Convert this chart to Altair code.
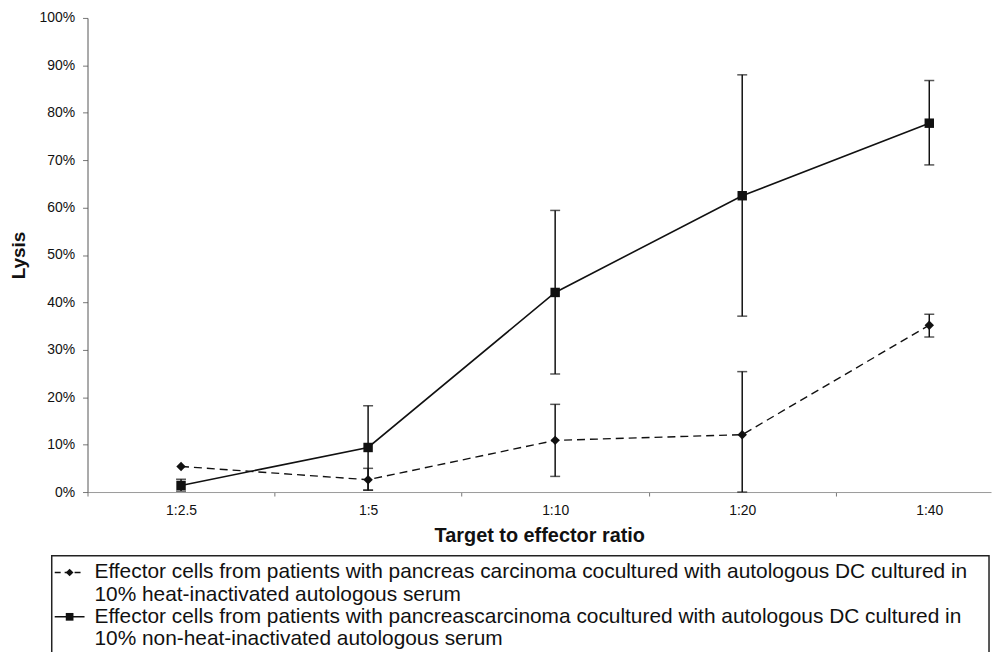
import altair as alt
import pandas as pd

ratios = ["1:2.5", "1:5", "1:10", "1:20", "1:40"]

heat_mean = [5.4, 2.6, 10.9, 12.1, 35.2]
heat_low = [5.4, 0.4, 3.3, 0.0, 32.7]
heat_high = [5.4, 5.0, 18.5, 25.4, 37.5]

nonheat_mean = [1.4, 9.4, 42.1, 62.5, 77.8]
nonheat_low = [0.2, 0.4, 24.9, 37.1, 69.0]
nonheat_high = [2.7, 18.2, 59.4, 88.0, 86.8]

series_names = ["heat", "nonheat"]
legend_lines = [
    ["Effector cells from patients with pancreas carcinoma cocultured with autologous DC cultured in",
     "10% heat-inactivated autologous serum"],
    ["Effector cells from patients with pancreascarcinoma cocultured with autologous DC cultured in",
     "10% non-heat-inactivated autologous serum"],
]

FONT = "Liberation Sans"
pos = list(range(len(ratios)))

heat = pd.DataFrame({"pos": pos, "ratio": ratios, "mean": heat_mean,
                     "low": heat_low, "high": heat_high, "series": "heat"})
nonheat = pd.DataFrame({"pos": pos, "ratio": ratios, "mean": nonheat_mean,
                        "low": nonheat_low, "high": nonheat_high, "series": "nonheat"})
both = pd.concat([heat, nonheat], ignore_index=True)
err = both[both["high"] > both["low"]]

label_js = "[" + ",".join("'" + r + "'" for r in ratios) + "]"
tick_vals = [-0.5, 0, 0.5, 1, 1.5, 2, 2.5, 3, 3.5, 4]

x_enc = alt.X(
    "pos:Q",
    scale=alt.Scale(domain=[-0.5, 4.33], nice=False, zero=False),
    axis=alt.Axis(
        values=tick_vals,
        labelExpr="datum.value % 1 === 0 ? " + label_js + "[datum.value] : ''",
        tickOpacity={"condition": {"test": "datum.value % 1 !== 0", "value": 1}, "value": 0},
        title="Target to effector ratio",
        titleFontSize=20, titleFontWeight="bold", titleFont=FONT, titleColor="#111",
        titlePadding=8,
        labelFontSize=14, labelFont=FONT, labelColor="#111", labelPadding=8,
        labelFlush=False,
        tickSize=4, tickColor="#777", domainColor="#999", domainWidth=1,
        grid=False,
    ),
)

y_enc = alt.Y(
    "mean:Q",
    scale=alt.Scale(domain=[0, 100], nice=False),
    axis=alt.Axis(
        values=list(range(0, 101, 10)),
        labelExpr="datum.value + '%'",
        title="Lysis",
        titleFontSize=19, titleFontWeight="bold", titleFont=FONT, titleColor="#111",
        titlePadding=11,
        labelFontSize=14, labelFont=FONT, labelColor="#111", labelPadding=8,
        tickSize=5, tickColor="#777", domainColor="#555", domainWidth=1,
        grid=False,
    ),
)

line_heat = alt.Chart(heat).mark_line(color="#111", strokeWidth=1.4, strokeDash=[8, 5]).encode(x=x_enc, y=y_enc)
line_nonheat = alt.Chart(nonheat).mark_line(color="#111", strokeWidth=1.6).encode(x="pos:Q", y="mean:Q")

rules = alt.Chart(err).mark_rule(color="#111", strokeWidth=1.5).encode(
    x="pos:Q", y="low:Q", y2="high:Q")
caps_low = alt.Chart(err).mark_tick(color="#111", orient="horizontal", size=10, thickness=1.5).encode(
    x="pos:Q", y="low:Q")
caps_high = alt.Chart(err).mark_tick(color="#111", orient="horizontal", size=10, thickness=1.5).encode(
    x="pos:Q", y="high:Q")

shape_scale = alt.Scale(domain=series_names, range=["diamond", "square"])
pts = alt.Chart(both).mark_point(filled=True, color="#111", opacity=1, size=90).encode(
    x="pos:Q", y="mean:Q",
    shape=alt.Shape("series:N", scale=shape_scale, legend=None))

main = alt.layer(line_heat, line_nonheat, rules, caps_low, caps_high, pts).properties(
    width=909, height=477)

# legend panel
rows = []
r = 0
for s, lines in zip(series_names, legend_lines):
    for i, t in enumerate(lines):
        rows.append({"row": r, "text": t, "series": s, "first": i == 0})
        r += 1
leg_df = pd.DataFrame(rows)
sym_df = leg_df[leg_df["first"]]
box_df = leg_df.head(1)

LW, LH = 907, 105
y_leg = alt.Y("row:Q", scale=alt.Scale(domain=[-0.76, 3.95], reverse=True, nice=False, zero=False), axis=None)

leg_box = alt.Chart(box_df).mark_rect(filled=False, stroke="#222", strokeWidth=1.5, clip=False).encode(
    x=alt.value(-36), x2=alt.value(LW), y=alt.value(0), y2=alt.value(LH))
leg_text = alt.Chart(leg_df).mark_text(align="left", baseline="middle", fontSize=21, font=FONT, color="#111").encode(
    x=alt.value(7), y=y_leg, text="text:N")
leg_line = alt.Chart(sym_df).mark_rule(color="#111", strokeWidth=1.4).encode(
    x=alt.value(-33), x2=alt.value(-3), y=y_leg,
    strokeDash=alt.StrokeDash("series:N", scale=alt.Scale(domain=series_names, range=[[6, 4], [1, 0]]), legend=None))
leg_pts = alt.Chart(sym_df).mark_point(filled=True, color="#111", opacity=1, size=60).encode(
    x=alt.value(-18), y=y_leg,
    shape=alt.Shape("series:N", scale=shape_scale, legend=None))

legend = alt.layer(leg_box, leg_line, leg_pts, leg_text).properties(width=LW, height=LH)

chart = alt.vconcat(main, legend, spacing=7).resolve_scale(shape="independent").properties(
    padding={"left": 0, "top": 0, "right": 0, "bottom": 0}
).configure(font=FONT).configure_view(stroke="transparent")

chart.save("out.html", embed_options={"renderer": "svg", "actions": False})
